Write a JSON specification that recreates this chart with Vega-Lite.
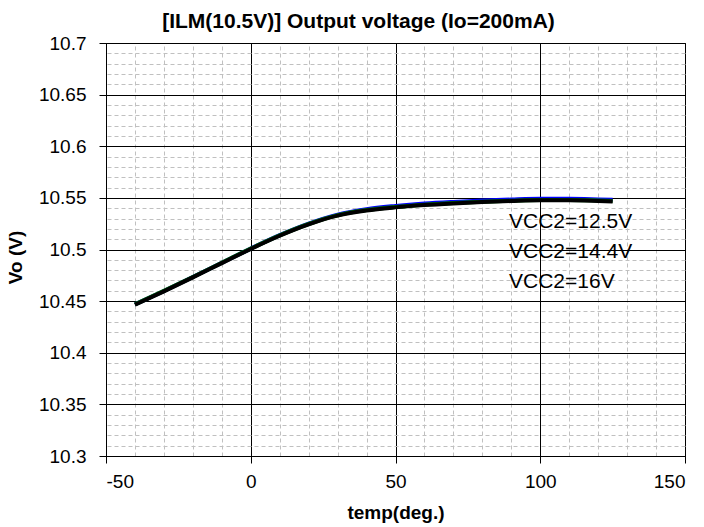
{
  "$schema": "https://vega.github.io/schema/vega-lite/v6.json",
  "width": 579,
  "height": 413,
  "autosize": {"type": "none"},
  "padding": {"left": 106, "top": 43, "right": 19, "bottom": 71},
  "background": "white",
  "title": {
    "text": "[ILM(10.5V)] Output voltage (Io=200mA)",
    "font": "Liberation Sans",
    "fontSize": 21,
    "fontWeight": "bold",
    "color": "black",
    "anchor": "middle",
    "frame": "group",
    "dx": -37,
    "offset": 2
  },
  "config": {
    "view": {"stroke": "black", "strokeWidth": 1},
    "axis": {
      "labelFont": "Liberation Sans",
      "titleFont": "Liberation Sans",
      "labelColor": "black",
      "titleColor": "black"
    }
  },
  "data": {
    "values": [
      {"series": "VCC2=12.5V", "temp": -40, "vo": 10.4468},
      {"series": "VCC2=12.5V", "temp": -30, "vo": 10.4598},
      {"series": "VCC2=12.5V", "temp": -20, "vo": 10.4733},
      {"series": "VCC2=12.5V", "temp": -10, "vo": 10.4871},
      {"series": "VCC2=12.5V", "temp": 0, "vo": 10.5009},
      {"series": "VCC2=12.5V", "temp": 10, "vo": 10.5139},
      {"series": "VCC2=12.5V", "temp": 20, "vo": 10.5251},
      {"series": "VCC2=12.5V", "temp": 30, "vo": 10.5338},
      {"series": "VCC2=12.5V", "temp": 40, "vo": 10.5391},
      {"series": "VCC2=12.5V", "temp": 50, "vo": 10.5422},
      {"series": "VCC2=12.5V", "temp": 60, "vo": 10.5445},
      {"series": "VCC2=12.5V", "temp": 70, "vo": 10.5461},
      {"series": "VCC2=12.5V", "temp": 80, "vo": 10.5474},
      {"series": "VCC2=12.5V", "temp": 90, "vo": 10.5484},
      {"series": "VCC2=12.5V", "temp": 100, "vo": 10.5491},
      {"series": "VCC2=12.5V", "temp": 110, "vo": 10.5491},
      {"series": "VCC2=12.5V", "temp": 120, "vo": 10.5485},
      {"series": "VCC2=12.5V", "temp": 125, "vo": 10.5481},
      {"series": "VCC2=14.4V", "temp": -40, "vo": 10.4469},
      {"series": "VCC2=14.4V", "temp": -30, "vo": 10.4599},
      {"series": "VCC2=14.4V", "temp": -20, "vo": 10.4734},
      {"series": "VCC2=14.4V", "temp": -10, "vo": 10.4872},
      {"series": "VCC2=14.4V", "temp": 0, "vo": 10.5009},
      {"series": "VCC2=14.4V", "temp": 10, "vo": 10.5137},
      {"series": "VCC2=14.4V", "temp": 20, "vo": 10.5247},
      {"series": "VCC2=14.4V", "temp": 30, "vo": 10.5332},
      {"series": "VCC2=14.4V", "temp": 40, "vo": 10.5382},
      {"series": "VCC2=14.4V", "temp": 50, "vo": 10.5412},
      {"series": "VCC2=14.4V", "temp": 60, "vo": 10.5434},
      {"series": "VCC2=14.4V", "temp": 70, "vo": 10.545},
      {"series": "VCC2=14.4V", "temp": 80, "vo": 10.5463},
      {"series": "VCC2=14.4V", "temp": 90, "vo": 10.5473},
      {"series": "VCC2=14.4V", "temp": 100, "vo": 10.548},
      {"series": "VCC2=14.4V", "temp": 110, "vo": 10.548},
      {"series": "VCC2=14.4V", "temp": 120, "vo": 10.5474},
      {"series": "VCC2=14.4V", "temp": 125, "vo": 10.547},
      {"series": "VCC2=16V", "temp": -40, "vo": 10.4465},
      {"series": "VCC2=16V", "temp": -30, "vo": 10.4595},
      {"series": "VCC2=16V", "temp": -20, "vo": 10.473},
      {"series": "VCC2=16V", "temp": -10, "vo": 10.4868},
      {"series": "VCC2=16V", "temp": 0, "vo": 10.5005},
      {"series": "VCC2=16V", "temp": 10, "vo": 10.5133},
      {"series": "VCC2=16V", "temp": 20, "vo": 10.5243},
      {"series": "VCC2=16V", "temp": 30, "vo": 10.5328},
      {"series": "VCC2=16V", "temp": 40, "vo": 10.5378},
      {"series": "VCC2=16V", "temp": 50, "vo": 10.5408},
      {"series": "VCC2=16V", "temp": 60, "vo": 10.543},
      {"series": "VCC2=16V", "temp": 70, "vo": 10.5446},
      {"series": "VCC2=16V", "temp": 80, "vo": 10.5459},
      {"series": "VCC2=16V", "temp": 90, "vo": 10.5469},
      {"series": "VCC2=16V", "temp": 100, "vo": 10.5476},
      {"series": "VCC2=16V", "temp": 110, "vo": 10.5476},
      {"series": "VCC2=16V", "temp": 120, "vo": 10.547},
      {"series": "VCC2=16V", "temp": 125, "vo": 10.5466}
    ]
  },
  "resolve": {"axis": {"x": "independent", "y": "independent"}},
  "layer": [
    {
      "mark": {"type": "line", "strokeOpacity": 0},
      "encoding": {
        "x": {
          "field": "temp", "type": "quantitative",
          "scale": {"domain": [-50, 150], "nice": false, "zero": false},
          "axis": {
            "orient": "top", "values": [-40,-30,-20,-10,10,20,30,40,60,70,80,90,110,120,130,140],
            "grid": true, "gridColor": "#c0c0c0", "gridDash": [4, 3], "gridWidth": 1,
            "labels": false, "ticks": false, "domain": false, "title": null
          }
        },
        "y": {
          "field": "vo", "type": "quantitative",
          "scale": {"domain": [10.3, 10.7], "nice": false, "zero": false},
          "axis": {
            "orient": "right",
            "values": [10.31,10.32,10.33,10.34,10.36,10.37,10.38,10.39,10.41,10.42,10.43,10.44,10.46,10.47,10.48,10.49,10.51,10.52,10.53,10.54,10.56,10.57,10.58,10.59,10.61,10.62,10.63,10.64,10.66,10.67,10.68,10.69],
            "grid": true, "gridColor": "#c0c0c0", "gridDash": [4, 3], "gridWidth": 1,
            "labels": false, "ticks": false, "domain": false, "title": null
          }
        },
        "detail": {"field": "series"}
      }
    },
    {
      "mark": {"type": "line", "strokeWidth": 4, "interpolate": "monotone"},
      "encoding": {
        "x": {
          "field": "temp", "type": "quantitative",
          "scale": {"domain": [-50, 150], "nice": false, "zero": false},
          "axis": {
            "orient": "bottom", "values": [-50, 0, 50, 100, 150],
            "labelExpr": "datum.value + ''",
            "grid": true, "gridColor": "black", "gridWidth": 1,
            "domainColor": "black", "tickColor": "black", "tickSize": 7,
            "labelFontSize": 19, "labelPadding": 9,
            "title": "temp(deg.)", "titleFontSize": 19, "titleFontWeight": "bold",
            "titleBaseline": "alphabetic", "titleY": 62
          }
        },
        "y": {
          "field": "vo", "type": "quantitative",
          "scale": {"domain": [10.3, 10.7], "nice": false, "zero": false},
          "axis": {
            "orient": "left", "values": [10.3, 10.35, 10.4, 10.45, 10.5, 10.55, 10.6, 10.65, 10.7],
            "labelExpr": "datum.value + ''",
            "grid": true, "gridColor": "black", "gridWidth": 1,
            "domainColor": "black", "tickColor": "black", "tickSize": 7,
            "labelFontSize": 19, "labelPadding": 13,
            "title": "Vo (V)", "titleFontSize": 19, "titleFontWeight": "bold",
            "titleAngle": -90, "titleBaseline": "alphabetic", "titleX": -85, "titleY": 214
          }
        },
        "color": {
          "field": "series", "type": "nominal",
          "scale": {"domain": ["VCC2=12.5V", "VCC2=14.4V", "VCC2=16V"], "range": ["#0000ff", "#008000", "#000000"]},
          "legend": {
            "orient": "none", "legendX": 382, "legendY": 168, "title": null,
            "symbolSize": 0, "symbolStrokeWidth": 0, "symbolOpacity": 0,
            "labelOffset": 0, "labelFontSize": 21, "labelFont": "Liberation Sans",
            "labelColor": "black", "rowPadding": 8, "padding": 0
          }
        }
      }
    }
  ]
}
